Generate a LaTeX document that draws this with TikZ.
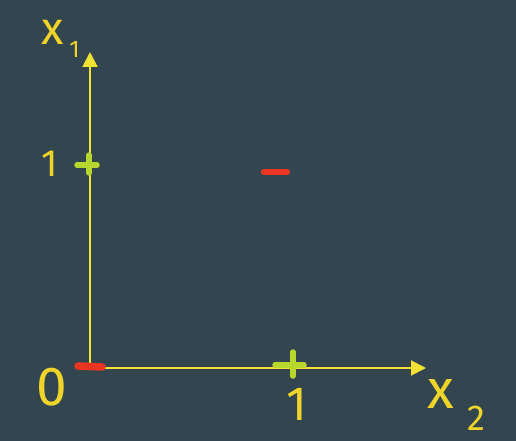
\documentclass[tikz,border=0pt]{standalone}
\usepackage{fontspec}
\setmainfont{Fira Sans}
\usetikzlibrary{arrows.meta}
\definecolor{bg}{HTML}{33464F}
\definecolor{ax}{HTML}{F2E232}
\definecolor{pen}{HTML}{F0D42A}
\definecolor{grn}{HTML}{B7D62E}
\definecolor{rd}{HTML}{EA3520}
\tikzset{
  axis/.style={draw=ax, line width=2pt, -{Triangle[length=15pt,width=15pt]}},
  lbl/.style={text=pen, inner sep=0pt, outer sep=0pt},
  plus/.style={draw=grn, line width=5.5pt, line cap=round},
  minus/.style={draw=rd, line width=6.5pt, line cap=round}
}
\newcommand{\fsz}[1]{\fontsize{#1}{#1}\selectfont}
\begin{document}
\begin{tikzpicture}[x=1pt,y=-1pt]
\fill[bg] (0,0) rectangle (516,441);
\useasboundingbox (0,0) rectangle (516,441);
\coordinate (O) at (90,368);
\coordinate (ytip) at (90,52);
\coordinate (xtip) at (426,368);
\draw[axis] (O) -- (ytip);
\draw[axis] (O) -- (xtip);
% labels
\node[lbl, anchor=base west] (xone) at (41,45) {\fsz{46}x\hspace{6pt}\raisebox{-13pt}{\fsz{24}1}};
\node[lbl, anchor=base] (yone) at (50,176) {\fsz{38}1};
\node[lbl, anchor=base] (orig) at (52,405) {\fsz{55}0};
\node[lbl, anchor=base] (xunit) at (297,420) {\fsz{48}1};
\node[lbl, anchor=base west] (xtwo) at (427,408) {\fsz{55}x\hspace{14pt}\raisebox{-22pt}{\fsz{36}2}};
% plus at (0,1)
\draw[plus] (77,165) -- (97,165);
\draw[plus] (89,155) -- (89,173);
% minus at (1,1)
\draw[minus] (264,172) -- (287,172);
% minus at origin
\draw[minus, line width=7.5pt] (78,366) -- (102,367);
% plus at (1,0)
\draw[plus] (275,365) -- (304,365);
\draw[plus] (293,352) -- (293,376);
\end{tikzpicture}
\end{document}
